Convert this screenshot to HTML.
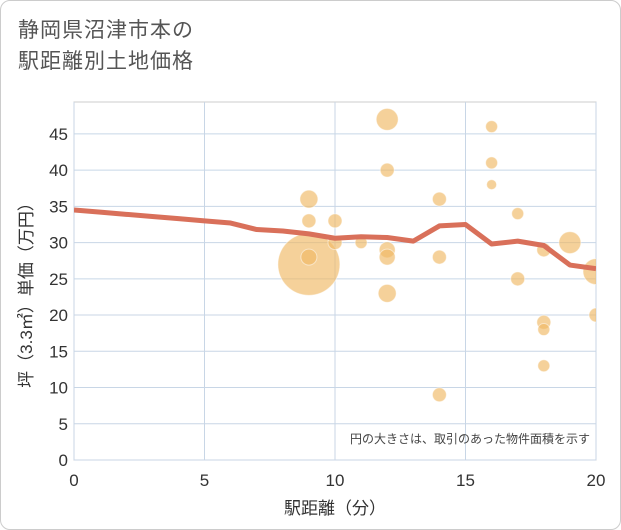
<!DOCTYPE html>
<html><head><meta charset="utf-8"><style>
body{margin:0;background:#fff;font-family:"Liberation Sans","Noto Sans CJK JP",sans-serif}
#wrap{position:relative;width:621px;height:530px;box-sizing:border-box;border:1px solid #ccc;border-radius:10px;overflow:hidden;background:#fff}
#title{position:absolute;left:17px;top:14px;font-size:21px;line-height:31px;color:#555;letter-spacing:1px}
</style></head><body>
<div id="wrap">
<div id="title">静岡県沼津市本の<br>駅距離別土地価格</div>
<svg id="chart" width="621" height="530" style="position:absolute;left:-1px;top:-1px"><defs><clipPath id="pc"><rect x="74" y="102" width="522" height="358"/></clipPath></defs></svg>
</div>
<script>
const xTicks=[0,5,10,15,20];
const yTicks=[0,5,10,15,20,25,30,35,40,45];
const bubbleX=[9,9,9,9,10,10,11,12,12,12,12,12,14,14,14,16,16,16,17,17,18,18,18,18,19,20,20];
const bubbleY=[27,28,36,33,33,30,30,47,40,29,28,23,36,28,9,46,41,38,34,25,29,19,18,13,30,26,20];
const bubbleR=[31,8,9,7,7,7,6,11,7,8,8,9,7,7,7,6,6,5,6,7,7,7,6,6,11,13,7];
const lineX=[0,1,2,3,4,5,6,7,8,9,10,11,12,13,14,15,16,17,18,19,20];
const lineY=[34.5,34.2,33.9,33.6,33.3,33.0,32.7,31.8,31.6,31.2,30.6,30.8,30.7,30.2,32.3,32.5,29.8,30.2,29.6,26.9,26.4];
const L=74,R=596,T=102,B=460;
const sx=v=>L+(v-0)/(20-0)*(R-L);
const sy=v=>B-(v-0)/(49.4-0)*(B-T);
const svg=document.getElementById('chart');
const NS='http://www.w3.org/2000/svg';
function mk(t,a,p){const e=document.createElementNS(NS,t);for(const k in a)e.setAttribute(k,a[k]);(p||svg).appendChild(e);return e;}
let e;
e=mk('rect',{x:L,y:T,width:R-L,height:B-T,fill:'#fff',stroke:'#ccc'});


xTicks.forEach(v=>{
 e=mk('line',{x1:sx(v),x2:sx(v),y1:T,y2:B,stroke:'#c8d6e6','stroke-width':1});
 
 
 e=mk('text',{x:sx(v),y:B+26,'text-anchor':'middle','font-size':17,fill:'#333'});e.textContent=v;
 
 
});
yTicks.forEach(v=>{
 e=mk('line',{x1:L,x2:R,y1:sy(v),y2:sy(v),stroke:'#c8d6e6','stroke-width':1});
 
 
 e=mk('text',{x:L-6,y:sy(v)+6,'text-anchor':'end','font-size':17,fill:'#333'});e.textContent=v;
 
 
});
const g=mk('g',{'clip-path':'url(#pc)'});


bubbleX.forEach((x,i)=>{
 e=mk('circle',{cx:sx(x),cy:sy(bubbleY[i]),r:bubbleR[i],fill:'rgba(240,185,100,0.65)',stroke:'rgba(255,255,255,0.5)','stroke-width':1},g);
 
 
});
e=mk('polyline',{points:lineX.map((x,i)=>sx(x)+','+sy(lineY[i])).join(' '),fill:'none',stroke:'#d9705a','stroke-width':5,'stroke-linejoin':'round'},g);


e=mk('text',{x:590,y:443,'text-anchor':'end','font-size':12,fill:'#444'});e.textContent='円の大きさは、取引のあった物件面積を示す';


e=mk('text',{x:(L+R)/2,y:514,'text-anchor':'middle','font-size':17,fill:'#333'});e.textContent='駅距離（分）';


e=mk('text',{x:0,y:0,'text-anchor':'middle','font-size':17,fill:'#333',transform:'translate(32,'+((T+B)/2+10)+') rotate(-90)'});e.textContent='坪（3.3㎡）単価（万円）';


</script>
</body></html>
